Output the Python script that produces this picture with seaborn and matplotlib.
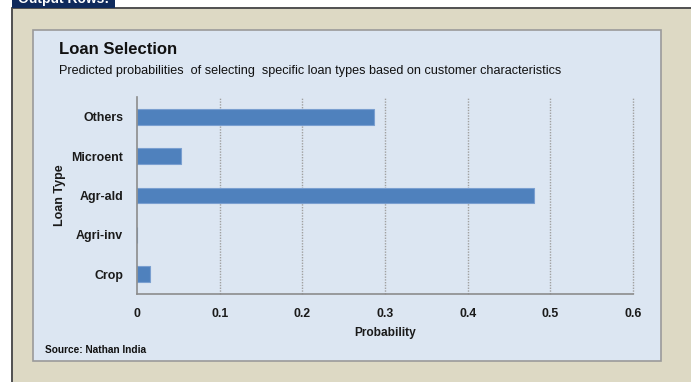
import matplotlib
matplotlib.use("Agg")
import matplotlib.pyplot as plt
from matplotlib.patches import Rectangle
import seaborn as sns
import pandas as pd

# Loan categories (top to bottom) and predicted selection probabilities
loan_types = ["Others", "Microent", "Agr-ald", "Agri-inv", "Crop"]
probabilities = [0.287, 0.053, 0.480, 0.0, 0.016]
x_ticks = [0, 0.1, 0.2, 0.3, 0.4, 0.5, 0.6]
x_tick_labels = ["0", "0.1", "0.2", "0.3", "0.4", "0.5", "0.6"]

title = "Loan Selection"
subtitle = "Predicted probabilities  of selecting  specific loan types based on customer characteristics"
source = "Source: Nathan India"

df = pd.DataFrame({"Loan Type": loan_types, "Probability": probabilities})

sns.set_theme(style="white")
FONT = ["Liberation Sans", "DejaVu Sans"]
plt.rcParams["font.family"] = FONT

W, H = 691, 382
fig = plt.figure(figsize=(W / 100, H / 100), dpi=100)
fig.patch.set_facecolor("white")


def fx(px):
    return px / W


def fy(py):
    return 1 - py / H


# Outer beige frame with a dark edge along the top and left
fig.patches.append(Rectangle((fx(12), 0), 1 - fx(12), fy(8), transform=fig.transFigure,
                             facecolor="#DDD9C4", edgecolor="none", zorder=0))
fig.add_artist(plt.Line2D([fx(12), 1], [fy(8), fy(8)], transform=fig.transFigure,
                          color="#505050", lw=1.4, zorder=1))
fig.add_artist(plt.Line2D([fx(12), fx(12)], [0, fy(8)], transform=fig.transFigure,
                          color="#505050", lw=1.4, zorder=1))
# Header tab
fig.patches.append(Rectangle((fx(12), fy(8)), fx(115) - fx(12), 1 - fy(8), transform=fig.transFigure,
                             facecolor="#0F2A5C", edgecolor="none", zorder=1))
fig.text(fx(18), fy(3), "Output Rows:", color="white", fontsize=10, fontweight="bold",
         va="baseline", ha="left", zorder=2)

# Inner light-blue chart panel
fig.patches.append(Rectangle((fx(33), fy(361)), fx(661) - fx(33), fy(30) - fy(361),
                             transform=fig.transFigure, facecolor="#DCE6F2",
                             edgecolor="#9A9A9A", lw=1.2, zorder=1))

ax = fig.add_axes([fx(137), fy(294), fx(633) - fx(137), fy(97) - fy(294)])
ax.set_facecolor("none")
ax.set_zorder(3)

sns.barplot(data=df, x="Probability", y="Loan Type", order=loan_types, orient="h",
            color="#4F81BD", width=0.4, saturation=1, edgecolor="#7A9FD0", linewidth=0.8, ax=ax)

ax.set_xlim(0, 0.6)
ax.set_ylim(4.5, -0.5)
ax.set_xticks(x_ticks)
ax.set_xticklabels(x_tick_labels)
for x in x_ticks[1:]:
    ax.axvline(x, color="#A0A0A0", lw=1.0, ls=(0, (1, 1)), zorder=0, clip_on=False)

# Category boundaries carry the y tick marks; labels sit at the centres
ax.set_yticks([i - 0.5 for i in range(len(loan_types) + 1)], minor=False)
ax.set_yticklabels([])
ax.set_yticks(range(len(loan_types)), minor=True)
ax.set_yticklabels(loan_types, minor=True)
ax.tick_params(axis="y", which="minor", length=0, pad=10, labelsize=8.9)
ax.tick_params(axis="y", which="major", length=4, width=1, color="#8C8C8C", direction="out")
ax.tick_params(axis="x", length=4, width=1, color="#8C8C8C", direction="out", pad=6, labelsize=8.8)
for lab in ax.get_xticklabels() + ax.get_yticklabels(minor=True):
    lab.set_fontweight("bold")
    lab.set_color("#1A1A1A")

for side in ["top", "right"]:
    ax.spines[side].set_visible(False)
for side in ["left", "bottom"]:
    ax.spines[side].set_color("#8C8C8C")
    ax.spines[side].set_linewidth(1.2)

ax.set_xlabel("Probability", fontsize=8.6, fontweight="bold", color="#1A1A1A")
ax.set_ylabel("Loan Type", fontsize=9, fontweight="bold", color="#1A1A1A")
ax.xaxis.set_label_coords(0.5, -(333 - 294) / 197, transform=ax.transAxes)
ax.xaxis.label.set_va("center")
ax.yaxis.set_label_coords(-(137 - 60) / 496, 0.5, transform=ax.transAxes)
ax.yaxis.label.set_va("center")

fig.text(fx(59), fy(50), title, fontsize=12, fontweight="bold",
         color="#111111", va="center", ha="left", zorder=4)
fig.text(fx(59), fy(71), subtitle, fontsize=9.1,
         color="#111111", va="center", ha="left", zorder=4)
fig.text(fx(45), fy(350), source, fontsize=7.3, fontweight="bold",
         color="#111111", va="center", ha="left", zorder=4)

fig.savefig("out.png", dpi=100)
